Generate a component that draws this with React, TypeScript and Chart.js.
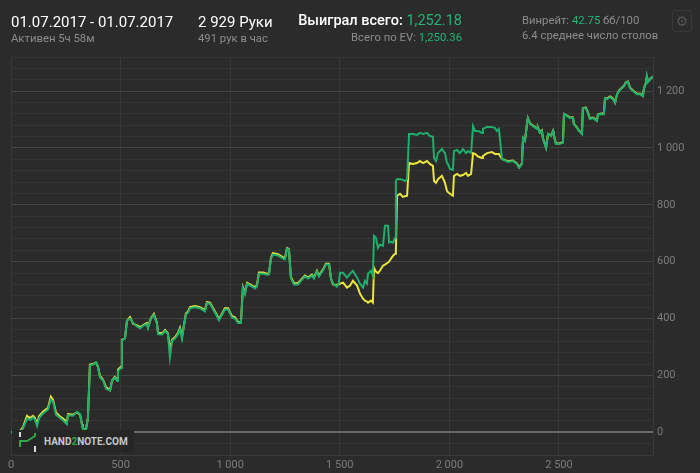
import React, { useEffect, useRef } from 'react';
import { Chart, registerables } from 'chart.js';
Chart.register(...registerables);

const BG = '#2b2b2b';
const GREEN = '#1fae6b';
const YELLOW = '#ebe43c';
const HEAD_GREEN = '#22b573';
const GREY = '#8c8c8c';
const TICK = '#7c7c7c';

// hands played (x)
const hands = [
  0, 18, 41, 55, 73, 87, 100, 109, 119, 128,
  146, 169, 182, 192, 205, 224, 237, 255, 260, 283,
  301, 315, 324, 328, 342, 351, 360, 374, 388, 397,
  406, 420, 434, 452, 461, 474, 484, 488, 502, 506,
  520, 529, 543, 557, 575, 589, 602, 620, 625, 639,
  652, 666, 671, 689, 703, 716, 725, 735, 748, 762,
  771, 780, 785, 798, 807, 817, 839, 862, 885, 894,
  908, 922, 940, 949, 963, 976, 990, 1008, 1022, 1036,
  1049, 1058, 1068, 1077, 1100, 1113, 1122, 1131, 1150, 1168,
  1177, 1186, 1195, 1218, 1241, 1250, 1259, 1268, 1277, 1291,
  1309, 1328, 1341, 1355, 1373, 1382, 1396, 1405, 1423, 1437,
  1451, 1460, 1469, 1487, 1496, 1501, 1515, 1533, 1547, 1560,
  1579, 1592, 1606, 1615, 1624, 1629, 1642, 1651, 1656, 1665,
  1674, 1683, 1697, 1706, 1720, 1725, 1734, 1743, 1752, 1756,
  1761, 1775, 1788, 1797, 1807, 1816, 1834, 1852, 1866, 1880,
  1898, 1911, 1925, 1930, 1939, 1948, 1966, 1980, 1989, 1993,
  2003, 2016, 2021, 2035, 2048, 2062, 2076, 2085, 2099, 2108,
  2117, 2131, 2149, 2153, 2172, 2194, 2208, 2217, 2226, 2240,
  2254, 2267, 2290, 2308, 2318, 2331, 2336, 2345, 2354, 2358,
  2368, 2381, 2400, 2404, 2413, 2422, 2427, 2441, 2450, 2464,
  2473, 2477, 2486, 2500, 2518, 2523, 2537, 2550, 2564, 2568,
  2582, 2591, 2605, 2609, 2623, 2632, 2641, 2655, 2673, 2678,
  2696, 2705, 2710, 2719, 2733, 2746, 2756, 2765, 2774, 2787,
  2797, 2806, 2815, 2824, 2838, 2856, 2870, 2883, 2888, 2897,
  2901, 2906, 2920, 2929,
];

// net won (green)
const won = [
  0, 2, -3, 14, 48, 44, 52, 45, 22, 50,
  66, 80, 115, 108, 62, 50, 42, 28, 60, 58,
  72, 64, 24, 12, 8, 50, 235, 238, 246, 228,
  193, 182, 152, 147, 182, 192, 180, 215, 226, 323,
  330, 393, 400, 385, 372, 366, 374, 380, 366, 400,
  412, 380, 345, 344, 356, 345, 263, 322, 330, 345,
  362, 330, 355, 415, 420, 436, 440, 436, 425, 454,
  452, 432, 408, 394, 414, 432, 432, 404, 400, 384,
  384, 506, 486, 522, 512, 506, 513, 558, 558, 554,
  555, 610, 625, 622, 611, 608, 646, 643, 542, 520,
  520, 537, 548, 541, 551, 541, 565, 548, 569, 590,
  590, 542, 523, 512, 526, 561, 561, 544, 558, 568,
  544, 523, 509, 533, 523, 558, 568, 551, 691, 684,
  649, 660, 656, 726, 726, 667, 670, 667, 684, 884,
  890, 891, 888, 884, 891, 1049, 1049, 1046, 1053, 1049,
  1053, 1042, 1039, 965, 954, 982, 996, 982, 947, 944,
  926, 923, 989, 993, 982, 996, 982, 989, 982, 1077,
  1060, 1060, 1053, 1067, 1074, 1074, 1070, 1060, 1067, 961,
  956, 951, 954, 944, 930, 944, 1035, 1025, 1084, 1105,
  1084, 1077, 1067, 1070, 1053, 1060, 1032, 1000, 1049, 1042,
  1060, 1042, 1014, 1014, 1018, 1119, 1112, 1105, 1105, 1084,
  1070, 1060, 1049, 1140, 1140, 1123, 1102, 1105, 1095, 1119,
  1119, 1119, 1175, 1172, 1179, 1172, 1158, 1189, 1200, 1210,
  1217, 1232, 1232, 1210, 1200, 1189, 1189, 1182, 1210, 1228,
  1253, 1232, 1246, 1252,
];

// all-in EV (yellow)
const ev = [
  0, 3, 4, 18, 58, 50, 58, 50, 30, 56,
  72, 86, 125, 114, 70, 55, 48, 36, 64, 62,
  70, 62, 28, 14, 10, 50, 238, 240, 245, 230,
  198, 185, 158, 148, 182, 195, 184, 220, 230, 325,
  330, 392, 405, 382, 376, 370, 376, 384, 370, 402,
  416, 384, 350, 348, 360, 348, 290, 325, 334, 350,
  368, 335, 358, 418, 424, 440, 444, 440, 430, 458,
  456, 436, 412, 398, 418, 436, 436, 408, 404, 388,
  386, 510, 490, 526, 516, 510, 517, 562, 562, 558,
  558, 614, 630, 626, 615, 612, 648, 645, 546, 524,
  524, 540, 551, 544, 554, 544, 568, 551, 572, 593,
  593, 540, 520, 518, 520, 523, 526, 509, 516, 533,
  516, 488, 470, 463, 460, 456, 463, 456, 579, 565,
  560, 568, 586, 590, 597, 600, 611, 621, 628, 640,
  832, 839, 828, 830, 832, 947, 944, 947, 954, 947,
  954, 944, 937, 884, 877, 890, 902, 877, 849, 845,
  839, 832, 902, 909, 902, 905, 912, 902, 909, 982,
  979, 970, 965, 972, 982, 986, 979, 979, 979, 961,
  958, 953, 956, 946, 932, 946, 1035, 1027, 1084, 1105,
  1086, 1079, 1069, 1072, 1055, 1062, 1034, 1002, 1049, 1044,
  1060, 1044, 1016, 1016, 1020, 1119, 1114, 1107, 1107, 1086,
  1072, 1062, 1051, 1140, 1142, 1125, 1104, 1107, 1097, 1119,
  1121, 1121, 1175, 1174, 1181, 1174, 1160, 1189, 1202, 1212,
  1219, 1232, 1234, 1212, 1202, 1191, 1191, 1184, 1210, 1230,
  1250, 1234, 1246, 1250,
];

const xTicks = [0, 500, 1000, 1500, 2000, 2500];
const X_MAX = 2929;
const Y_MIN = -80;
const Y_MAX = 1320;

function fmt(n: number): string {
  if (n >= 1000) return `${Math.floor(n / 1000)} ${String(n % 1000).padStart(3, '0')}`;
  return String(n);
}

const FONT = 'Roboto, "Noto Sans", sans-serif';

function Txt(props: { left?: number; right?: number; top: number; size: number; color: string; weight?: number; children: any }) {
  const { left, right, top, size, color, weight, children } = props;
  return (
    <div
      style={{
        position: 'absolute',
        left,
        right,
        top,
        fontSize: size,
        lineHeight: 1,
        color,
        fontWeight: weight ?? 400,
        whiteSpace: 'nowrap',
        fontFamily: FONT,
      }}
    >
      {children}
    </div>
  );
}

export default function App() {
  const ref = useRef<HTMLCanvasElement>(null);
  useEffect(() => {
    document.body.style.margin = '0';
    document.body.style.background = BG;
    const chart = new Chart(ref.current as HTMLCanvasElement, {
      type: 'line',
      data: {
        datasets: [
          {
            label: 'won',
            data: hands.map((h, i) => ({ x: h, y: won[i] })),
            borderColor: GREEN,
            borderWidth: 2,
            pointRadius: 0,
            tension: 0,
            fill: false,
          },
          {
            label: 'ev',
            data: hands.map((h, i) => ({ x: h, y: ev[i] })),
            borderColor: YELLOW,
            borderWidth: 2,
            pointRadius: 0,
            tension: 0,
            fill: false,
          },
        ],
      },
      options: {
        animation: false,
        responsive: false,
        maintainAspectRatio: false,
        devicePixelRatio: 1,
        layout: { padding: { left: 11, top: 57, right: 0, bottom: 0 } },
        plugins: { legend: { display: false }, tooltip: { enabled: false } },
        scales: {
          x: {
            type: 'linear',
            min: 0,
            max: X_MAX,
            afterBuildTicks: (s: any) => {
              s.ticks = xTicks.map((v) => ({ value: v }));
            },
            afterFit: (s: any) => {
              s.height = 18;
            },
            ticks: {
              padding: 4,
              color: TICK,
              maxRotation: 0,
              autoSkip: false,
              font: { family: FONT, size: 11 },
              callback: (v: any) => fmt(Number(v)),
            },
            grid: { color: '#373737', drawTicks: false },
            border: { color: '#3a3a3a' },
          },
          y: {
            position: 'right',
            min: Y_MIN,
            max: Y_MAX,
            afterFit: (s: any) => {
              s.width = 47;
            },
            ticks: {
              stepSize: 40,
              autoSkip: false,
              padding: 4,
              color: TICK,
              font: { family: FONT, size: 11 },
              callback: (v: any) => {
                const n = Number(v);
                return n >= 0 && n % 200 === 0 ? fmt(n) : '';
              },
            },
            grid: {
              drawTicks: false,
              color: (c: any) => {
                const v = c.tick ? c.tick.value : 1;
                if (v === 0) return '#6a6a6a';
                if (v % 200 === 0) return '#444444';
                return '#353535';
              },
              lineWidth: (c: any) => (c.tick && c.tick.value === 0 ? 2 : 1),
            },
            border: { color: '#3a3a3a' },
          },
        },
      },
    } as any);
    return () => chart.destroy();
  }, []);

  return (
    <div style={{ position: 'relative', width: 700, height: 473, background: BG, overflow: 'hidden', fontFamily: FONT }}>
      <canvas ref={ref} width={700} height={473} style={{ position: 'absolute', left: 0, top: 0 }} />

      <Txt left={11} top={14.5} size={15} color="#ffffff">01.07.2017 - 01.07.2017</Txt>
      <Txt left={11} top={32.5} size={11.3} color={GREY}>Активен 5ч 58м</Txt>

      <Txt left={198} top={14.5} size={15} color="#ffffff">2 929 Руки</Txt>
      <Txt left={198} top={32.5} size={11.3} color={GREY}>491 рук в час</Txt>

      <Txt right={238} top={14} size={14.5} color="#ffffff" weight={500}>
        Выиграл всего: <span style={{ color: HEAD_GREEN, fontWeight: 400 }}>1,252.18</span>
      </Txt>
      <Txt right={238} top={31.5} size={11.3} color={GREY}>
        Всего по EV: <span style={{ color: HEAD_GREEN }}>1,250.36</span>
      </Txt>

      <Txt left={522} top={15} size={11.3} color={GREY}>
        Винрейт: <span style={{ color: HEAD_GREEN }}>42.75</span> бб/100
      </Txt>
      <Txt left={522} top={29.5} size={11.3} color={GREY}>6.4 среднее число столов</Txt>

      <div
        style={{
          position: 'absolute',
          left: 672,
          top: 10,
          width: 20,
          height: 22,
          border: '1px solid #3a3a3a',
          borderRadius: 3,
          boxSizing: 'border-box',
          display: 'flex',
          alignItems: 'center',
          justifyContent: 'center',
          color: '#555',
          fontSize: 14,
          fontFamily: '"DejaVu Sans", sans-serif',
        }}
      >
        ⚙
      </div>

      <div
        style={{
          position: 'absolute',
          left: 12,
          top: 430,
          width: 122,
          height: 23,
          background: '#262626',
        }}
      >
        <svg width={30} height={23} style={{ position: 'absolute', left: 0, top: 0 }}>
          <rect x={7} y={2} width={2} height={5} fill="#d8d8d8" />
          <rect x={22} y={16} width={2} height={6} fill="#d8d8d8" />
          <polyline points="8,17 8,11 15,11 23,6 23,3" fill="none" stroke="#2fa84a" strokeWidth={2} />
        </svg>
        <div
          style={{
            position: 'absolute',
            left: 32,
            top: 7,
            fontSize: 10,
            lineHeight: 1,
            fontWeight: 700,
            color: '#c8c8c8',
            fontFamily: FONT,
            whiteSpace: 'nowrap',
          }}
        >
          HAND<span style={{ color: '#2fa84a' }}>2</span>NOTE.COM
        </div>
      </div>
    </div>
  );
}
